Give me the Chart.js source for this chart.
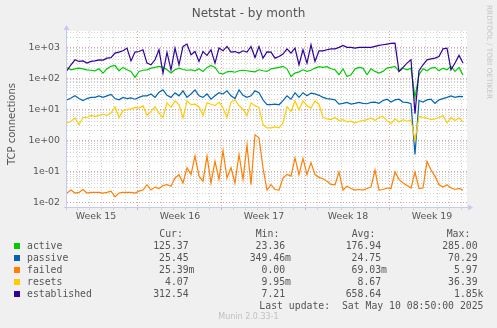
<!DOCTYPE html>
<html>
<head>
<meta charset="utf-8">
<script src="https://cdn.jsdelivr.net/npm/chart.js@4.4.1/dist/chart.umd.min.js"></script>
<style>
  html, body { margin: 0; padding: 0; background: #f0f0f0; }
  #wrap { position: relative; width: 497px; height: 328px; overflow: hidden; font-family: 'DejaVu Sans', sans-serif; color: #555; }
  #chart { position: absolute; left: 0; top: 0; }
  .t { position: absolute; white-space: pre; line-height: 12px; }
  .mono { font-family: 'DejaVu Sans Mono', monospace; font-size: 9.8px; }
  .sw { position: absolute; width: 6px; height: 6px; }
</style>
</head>
<body>
<div id="wrap">
  <canvas id="chart" width="497" height="328"></canvas>
  <div class="t" style="left:0;width:497px;text-align:center;top:6px;font-size:12px;line-height:14px;">Netstat - by month</div>
  <div class="t" style="left:12px;top:124px;font-size:10px;transform:translate(-50%,-50%) rotate(-90deg);">TCP connections</div>
  <div class="t" style="left:489px;top:52px;font-size:7.3px;color:#c4c4c4;transform:translate(-50%,-50%) rotate(90deg);">RRDTOOL / TOBI OETIKER</div>
  <div id="legend"></div>
  <div class="t" style="left:0;width:497px;text-align:center;top:311px;font-size:8px;color:#c0c0c0;">Munin 2.0.33-1</div>
</div>
<script>
// samples every ~8 hours, oldest first
const active = [222, 186, 200, 211, 200, 186, 180, 173, 200, 146, 200, 240, 255, 173, 222, 186, 165, 106, 165, 180, 186, 211, 222, 240, 222,
  186, 146, 186, 211, 190, 180, 186, 173, 200, 165, 222, 255, 222, 146, 136, 160, 165, 155, 173, 180, 173, 165, 160, 186, 173,
  165, 200, 211, 222, 240, 200, 113, 146, 160, 186, 165, 180, 211, 235, 222, 235, 200, 186, 129, 200, 113, 129, 200, 222, 211,
  129, 200, 165, 146, 165, 211, 222, 240, 165, 211, 186, 211, 24, 129, 200, 173, 211, 222, 173, 211, 186, 240, 165, 222, 125];
const passive = [20, 23, 27, 22, 19, 22, 24, 24, 27, 24, 27, 30, 22, 20, 24, 22, 23, 21, 24, 27, 27, 31, 24, 35, 42,
  28, 24, 34, 27, 39, 24, 31, 42, 27, 24, 31, 21, 27, 34, 31, 39, 27, 22, 42, 28, 24, 27, 39, 34, 20,
  14, 14, 14.6, 13.9, 19, 27, 21, 34, 24, 34, 27, 33, 31, 28, 24, 22, 21, 20, 14.6, 15.5, 16.6, 14.6, 15.5, 16.6, 15.5,
  15, 16.6, 17, 15.5, 19, 21, 17, 20, 21, 17, 16.6, 15, 0.35, 19, 17, 20, 21, 15.5, 20, 22, 24, 27, 24, 26, 25.5];
const failed = [0.020, 0.025, 0.020, 0.021, 0.026, 0.020, 0.021, 0.021, 0.021, 0.020, 0.021, 0.023, 0.015, 0.020, 0.021, 0.021, 0.021, 0.020, 0.023, 0.025, 0.037, 0.025, 0.031, 0.028, 0.035,
  0.037, 0.033, 0.061, 0.078, 0.042, 0.13, 0.078, 0.31, 0.07, 0.048, 0.31, 0.042, 0.21, 0.055, 0.46, 0.061, 0.13, 0.042, 0.35, 0.055, 0.7, 0.037, 1.5, 1.2, 0.13,
  0.025, 0.037, 0.026, 0.025, 0.061, 0.08, 0.07, 0.27, 0.078, 0.26, 0.078, 0.19, 0.078, 0.064, 0.058, 0.048, 0.038, 0.037, 0.095, 0.025, 0.033, 0.028, 0.025, 0.026, 0.025,
  0.028, 0.031, 0.11, 0.025, 0.026, 0.029, 0.028, 0.095, 0.055, 0.042, 0.035, 0.029, 0.095, 0.028, 0.029, 0.21, 0.11, 0.07, 0.037, 0.031, 0.037, 0.029, 0.026, 0.028, 0.025];
const resets = [3.6, 4.1, 5.2, 3.2, 5.4, 5.4, 6.3, 5.9, 6.3, 7, 6.3, 7.5, 12, 5.4, 9, 9.6, 10.3, 11.5, 10.9, 13, 6.3, 8.5, 12, 7.5, 5.4,
  16, 11.5, 18.5, 14, 5.2, 18.5, 14, 14.5, 12, 6.3, 16, 14.5, 13, 17, 10.9, 5.4, 17, 20, 13, 10, 6.3, 16, 13, 11.5, 3.2,
  2.5, 2.5, 2.7, 2.5, 3.6, 12, 8.5, 18.5, 9.6, 18.5, 13, 10.9, 18.5, 14.5, 5.4, 4.9, 4.6, 5.4, 4.3, 4.6, 3.9, 4.1, 3.6, 4.1, 4.3,
  4.6, 5.2, 4.3, 5.4, 5.9, 4.3, 3.4, 4.9, 3.9, 4.6, 4.1, 4.5, 1.0, 5.9, 5.4, 5.2, 4.6, 4.9, 5.4, 6.3, 3.6, 5.4, 4.3, 5.2, 3.9];
const established = [175, 270, 390, 345, 360, 306, 345, 360, 390, 380, 440, 460, 640, 690, 760, 930, 360, 690, 720, 820, 306, 270, 390, 820, 146,
  680, 185, 930, 270, 1050, 1250, 565, 720, 345, 720, 540, 820, 306, 930, 760, 1050, 690, 720, 640, 760, 690, 1050, 460, 1050, 440,
  700, 690, 440, 500, 600, 880, 640, 930, 270, 820, 306, 1190, 345, 760, 760, 820, 880, 880, 980, 1130, 980, 980, 930, 980, 980,
  980, 980, 1050, 1130, 1190, 1250, 1310, 1350, 165, 222, 306, 390, 7.2, 175, 270, 390, 420, 440, 500, 880, 930, 185, 306, 540, 306];

const names = ["active", "passive", "failed", "resets", "established"];
const colors = ["#00cc00", "#0066b3", "#ff8000", "#ffcc00", "#330099"];
const series = [active, passive, failed, resets, established];

const curText = ["125.37 ", "25.45 ", "25.39m", "4.07 ", "312.54 "];
const minText = ["23.36 ", "349.46m", "0.00 ", "9.95m", "7.21 "];
const avgText = ["176.94 ", "24.75 ", "69.03m", "8.67 ", "658.64 "];
const maxText = ["285.00 ", "70.29 ", "5.97 ", "36.39 ", "1.85k"];

const weekLabels = ["Week 15", "Week 16", "Week 17", "Week 18", "Week 19"];
const weekLabelAt = [7.25, 28.25, 49.25, 70.25, 91.25];
const weekStartAt = [17.5, 38.5, 59.5, 80.5];
const decadeLabels = {0.01: "1e-02", 0.1: "1e-01", 1: "1e+00", 10: "1e+01", 100: "1e+02", 1000: "1e+03"};

// legend table
const legend = document.getElementById("legend");
const addText = (txt, css) => {
    const d = document.createElement("div");
    d.className = "t mono";
    d.textContent = txt;
    d.style.cssText += css;
    legend.appendChild(d);
};
const headLeft = [159.3, 255.7, 351.7, 446.7];
const colRight = [194.5, 291, 387, 483.5];
["Cur:", "Min:", "Avg:", "Max:"].forEach((h, i) => addText(h, `left:${headLeft[i]}px;top:228px;`));
names.forEach((n, r) => {
    const top = 240 + r * 11.9;
    const sw = document.createElement("div");
    sw.className = "sw";
    sw.style.cssText = `left:14px;top:${top + 3}px;background:${colors[r]};`;
    legend.appendChild(sw);
    addText(n, `left:27px;top:${top}px;`);
    [curText, minText, avgText, maxText].forEach((col, c) => {
        addText(col[r], `right:${497 - colRight[c]}px;top:${top}px;text-align:right;`);
    });
});
addText("Last update:  Sat May 10 08:50:00 2025", `right:${497 - 483.5}px;top:299.7px;text-align:right;`);

const frame = {
    id: "frame",
    beforeDraw(chart) {
        const {ctx, chartArea: a} = chart;
        ctx.save();
        ctx.fillStyle = "#ffffff";
        ctx.fillRect(a.left, a.top, a.right - a.left, a.bottom - a.top);
        ctx.restore();
    },
    afterDraw(chart) {
        const {ctx, chartArea: a} = chart;
        ctx.save();
        ctx.strokeStyle = "#c4caf2";
        ctx.fillStyle = "#c4caf2";
        ctx.lineWidth = 1;
        ctx.beginPath();
        ctx.moveTo(a.left - 0.5, a.bottom + 3);
        ctx.lineTo(a.left - 0.5, a.top - 3);
        ctx.moveTo(a.left - 3, a.bottom + 0.5);
        ctx.lineTo(a.right + 3, a.bottom + 0.5);
        ctx.stroke();
        ctx.beginPath();
        ctx.moveTo(a.left - 0.5, a.top - 6);
        ctx.lineTo(a.left - 3.5, a.top - 1);
        ctx.lineTo(a.left + 2.5, a.top - 1);
        ctx.fill();
        ctx.beginPath();
        ctx.moveTo(a.right + 6, a.bottom + 0.5);
        ctx.lineTo(a.right + 1, a.bottom - 2.5);
        ctx.lineTo(a.right + 1, a.bottom + 3.5);
        ctx.fill();
        ctx.restore();
    }
};

const isWeekStart = v => weekStartAt.some(w => Math.abs(w - v) < 1e-6);
const isWeekLabel = v => weekLabelAt.some(w => Math.abs(w - v) < 1e-6);
const isDecade = v => decadeLabels[v] !== undefined;

new Chart(document.getElementById("chart").getContext("2d"), {
    type: "line",
    data: {
        datasets: series.map((s, i) => ({
            label: names[i],
            data: s.map((v, j) => ({x: j, y: v})),
            borderColor: colors[i],
            backgroundColor: colors[i],
            borderWidth: 1.2,
            pointRadius: 0,
            tension: 0,
            fill: false,
            order: 4 - i
        }))
    },
    options: {
        responsive: false,
        animation: false,
        events: [],
        layout: {padding: {left: 0, right: 30, top: 31, bottom: 101}},
        plugins: {legend: {display: false}, tooltip: {enabled: false}, title: {display: false}},
        scales: {
            x: {
                type: "linear",
                min: 0,
                max: 100,
                afterFit: s => { s.height = 20; },
                afterBuildTicks: s => {
                    const t = [];
                    for (let v = 2.5; v < 100; v += 3) t.push({value: v});
                    weekLabelAt.forEach(v => t.push({value: v}));
                    t.sort((a, b) => a.value - b.value);
                    s.ticks = t;
                },
                ticks: {
                    autoSkip: false,
                    maxRotation: 0,
                    padding: 1,
                    color: "#555",
                    font: {family: "DejaVu Sans", size: 9.4},
                    callback: v => isWeekLabel(v) ? weekLabels[weekLabelAt.findIndex(w => Math.abs(w - v) < 1e-6)] : ""
                },
                grid: {
                    drawTicks: true,
                    tickLength: 3,
                    lineWidth: 1,
                    color: c => isWeekLabel(c.tick.value) ? "rgba(0,0,0,0)" : (isWeekStart(c.tick.value) ? "#e6a0a0" : "#d2d2d2")
                },
                border: {display: false, dash: [1, 2]}
            },
            y: {
                type: "logarithmic",
                min: 0.0071,
                max: 3300,
                afterFit: s => { s.width = 67; },
                afterBuildTicks: s => {
                    const t = [];
                    for (let e = -2; e <= 3; e++) {
                        for (let m = 1; m <= 9; m++) {
                            const v = +(m * Math.pow(10, e)).toPrecision(3);
                            if (v >= s.min && v <= s.max) t.push({value: v});
                        }
                    }
                    s.ticks = t;
                },
                ticks: {
                    autoSkip: false,
                    padding: 7,
                    color: "#555",
                    font: {family: "DejaVu Sans", size: 9.4},
                    callback: v => isDecade(v) ? decadeLabels[v] : ""
                },
                grid: {
                    drawTicks: false,
                    lineWidth: 1,
                    color: c => isDecade(c.tick.value) ? "#e6a0a0" : "#d2d2d2"
                },
                border: {display: false, dash: [1, 2]}
            }
        }
    },
    plugins: [frame]
});
</script>
</body>
</html>
